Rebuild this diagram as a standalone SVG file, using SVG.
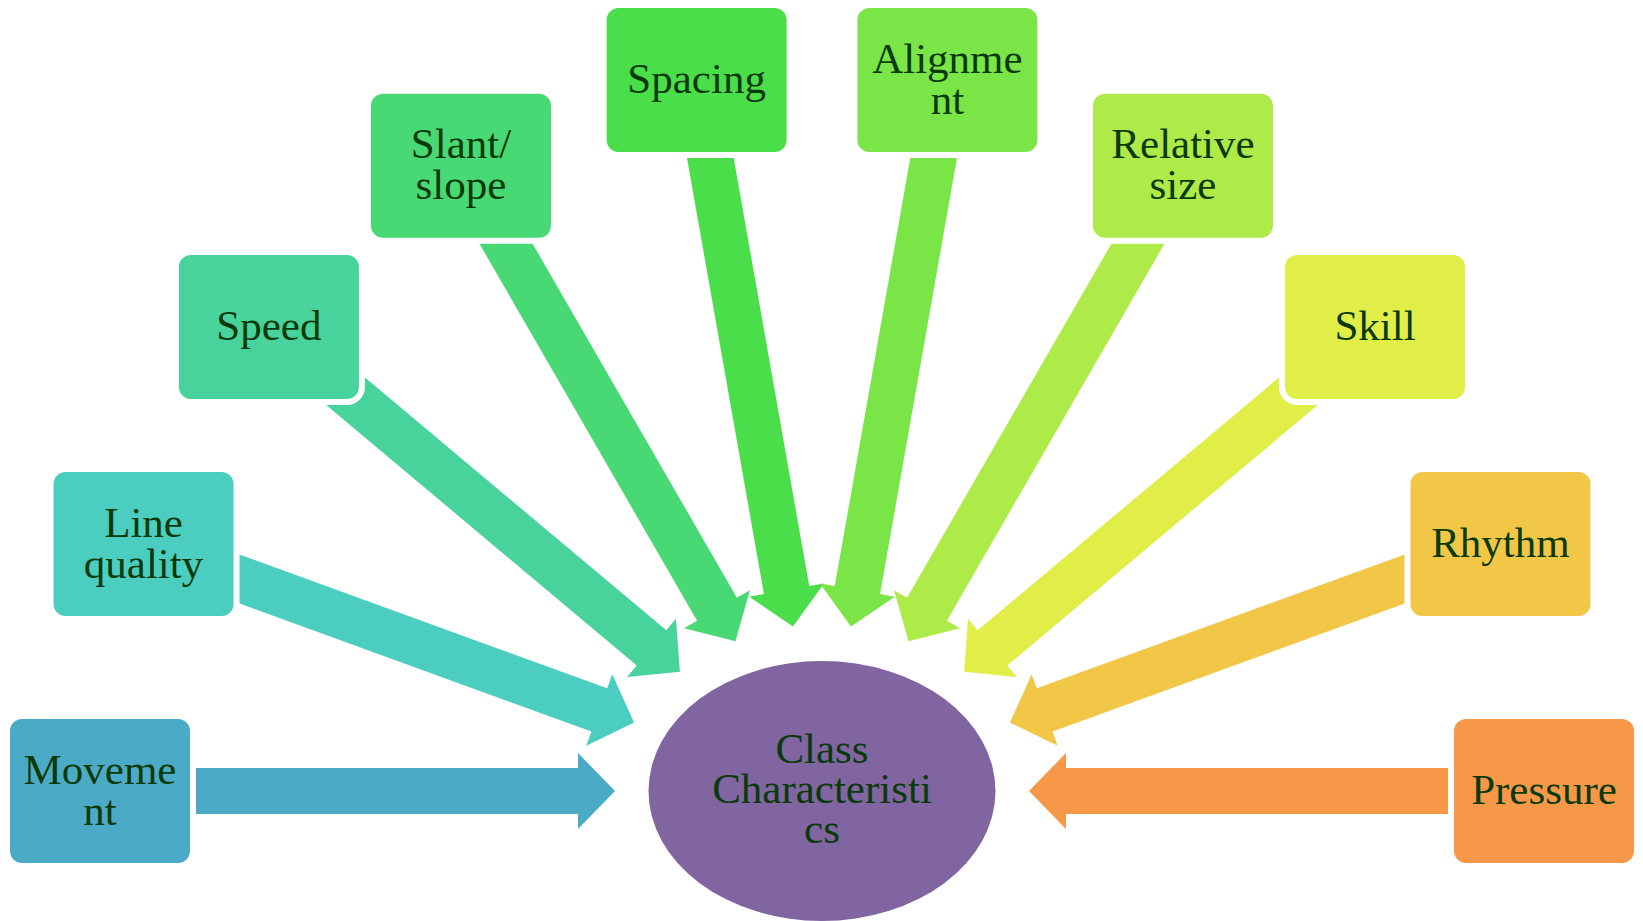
<svg xmlns="http://www.w3.org/2000/svg" width="1643" height="921" viewBox="0 0 1643 921">
<style>
.box{stroke:#ffffff;stroke-width:12;paint-order:stroke;}
.t{font-family:"Liberation Serif","Times New Roman",serif;font-size:43px;fill:#0a3a0a;text-anchor:middle;}
</style>
<rect width="1643" height="921" fill="#ffffff"/>
<g id="connectors">
<polygon fill="#4BABC6" points="100,768 578,768 578,753 615,791 578,829 578,814 100,814"/>
<polygon fill="#4BCDC0" points="151.41,522.45 607.16,688.33 612.29,674.23 634.06,722.6 586.29,745.65 591.42,731.55 135.67,565.67"/>
<polygon fill="#48D29C" points="283.7,309.29 666.34,630.36 675.99,618.87 679.9,671.76 627.13,677.09 636.78,665.6 254.14,344.53"/>
<polygon fill="#49D974" points="480.92,154.23 736.92,597.63 749.91,590.13 735.5,641.18 684.09,628.13 697.08,620.63 441.08,177.23"/>
<polygon fill="#4ADE4B" points="719.28,75.98 809.23,586.11 824,583.5 793,626.54 749.16,596.7 763.93,594.09 673.98,83.96"/>
<polygon fill="#7AE547" points="924.72,75.98 834.77,586.11 820,583.5 851,626.54 894.84,596.7 880.07,594.09 970.02,83.96"/>
<polygon fill="#AEEA48" points="1163.08,154.23 907.08,597.63 894.09,590.13 908.5,641.18 959.91,628.13 946.92,620.63 1202.92,177.23"/>
<polygon fill="#E1EE48" points="1360.3,309.29 977.66,630.36 968.01,618.87 964.1,671.76 1016.87,677.09 1007.22,665.6 1389.86,344.53"/>
<polygon fill="#F2C748" points="1492.59,522.45 1036.84,688.33 1031.71,674.23 1009.94,722.6 1057.71,745.65 1052.58,731.55 1508.33,565.67"/>
<polygon fill="#F69848" points="1544,768 1066,768 1066,753 1029,791 1066,829 1066,814 1544,814"/>
</g>
<g id="center">
<ellipse cx="822" cy="791" rx="173.5" ry="130" fill="#8065A1"/>
<text class="t" x="822" y="763">Class</text>
<text class="t" x="822" y="803">Characteristi</text>
<text class="t" x="822" y="843">cs</text>
</g>
<g id="movement">
<rect class="box" x="10" y="719" width="180" height="144" rx="12" fill="#4BABC6"/>
<text class="t" x="100" y="783.5">Moveme</text>
<text class="t" x="100" y="824.5">nt</text>
</g>
<g id="line-quality">
<rect class="box" x="53.54" y="472.06" width="180" height="144" rx="12" fill="#4BCDC0"/>
<text class="t" x="143.54" y="536.6">Line</text>
<text class="t" x="143.54" y="577.6">quality</text>
</g>
<g id="speed">
<rect class="box" x="178.92" y="254.91" width="180" height="144" rx="12" fill="#48D29C"/>
<text class="t" x="268.92" y="340">Speed</text>
</g>
<g id="slant-slope">
<rect class="box" x="371" y="93.73" width="180" height="144" rx="12" fill="#49D974"/>
<text class="t" x="461" y="158.2">Slant/</text>
<text class="t" x="461" y="199.2">slope</text>
</g>
<g id="spacing">
<rect class="box" x="606.63" y="7.97" width="180" height="144" rx="12" fill="#4ADE4B"/>
<text class="t" x="696.63" y="93">Spacing</text>
</g>
<g id="alignment">
<rect class="box" x="857.37" y="7.97" width="180" height="144" rx="12" fill="#7AE547"/>
<text class="t" x="947.37" y="72.5">Alignme</text>
<text class="t" x="947.37" y="113.5">nt</text>
</g>
<g id="relative-size">
<rect class="box" x="1093" y="93.73" width="180" height="144" rx="12" fill="#AEEA48"/>
<text class="t" x="1183" y="158.2">Relative</text>
<text class="t" x="1183" y="199.2">size</text>
</g>
<g id="skill">
<rect class="box" x="1285.08" y="254.91" width="180" height="144" rx="12" fill="#E1EE48"/>
<text class="t" x="1375.08" y="340">Skill</text>
</g>
<g id="rhythm">
<rect class="box" x="1410.46" y="472.06" width="180" height="144" rx="12" fill="#F2C748"/>
<text class="t" x="1500.46" y="557">Rhythm</text>
</g>
<g id="pressure">
<rect class="box" x="1454" y="719" width="180" height="144" rx="12" fill="#F69848"/>
<text class="t" x="1544" y="804">Pressure</text>
</g>
</svg>
